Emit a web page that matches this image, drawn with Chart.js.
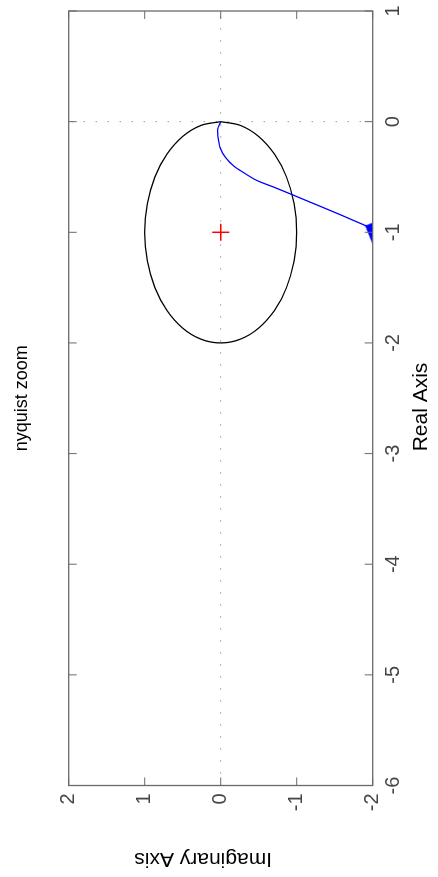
<!DOCTYPE html>
<html><head><meta charset="utf-8">
<script src="https://cdn.jsdelivr.net/npm/chart.js@4/dist/chart.umd.min.js"></script>
<style>
html,body{margin:0;padding:0;background:#fff;overflow:hidden;width:438px;height:877px;}
#wrap{position:absolute;left:0;top:0;width:877px;height:438px;transform-origin:0 0;transform:translate(0,877px) rotate(-90deg);}
</style></head><body>
<div id="wrap"><canvas id="c" width="877" height="438"></canvas></div>
<script>
// ---- data ----
const titleText = 'nyquist zoom';
const realAxisLabel = 'Real Axis   ';
const imagAxisLabel = '      Imaginary Axis';
const realTicks = [-6, -5, -4, -3, -2, -1, 0, 1];
const imagTicks = [-2, -1, 0, 1, 2];

// unit circle centred on -1 (15 degree steps)
const circleReal = [0, -0.034, -0.134, -0.293, -0.5, -0.741, -1, -1.259, -1.5, -1.707, -1.866, -1.966, -2,
                    -1.966, -1.866, -1.707, -1.5, -1.259, -1, -0.741, -0.5, -0.293, -0.134, -0.034, 0];
const circleImag = [0, 0.259, 0.5, 0.707, 0.866, 0.966, 1, 0.966, 0.866, 0.707, 0.5, 0.259, 0,
                    -0.259, -0.5, -0.707, -0.866, -0.966, -1, -0.966, -0.866, -0.707, -0.5, -0.259, 0];

// nyquist curve
const nyqReal = [0, -0.07, -0.14, -0.23, -0.32, -0.40, -0.46, -0.53, -0.59, -0.66, -0.74, -0.84, -0.95, -1.01, -1.07];
const nyqImag = [0, 0.04, 0.035, 0.01, -0.06, -0.17, -0.30, -0.47, -0.69, -0.94, -1.22, -1.57, -1.94, -2.14, -2.34];

const arrowReal = [-0.99];
const arrowImag = [-2.07];
const critReal = [-1];
const critImag = [0];
const zeroRealLineReal = [0, 0];
const zeroRealLineImag = [-2, 2];
const zeroImagLineReal = [-6, 1];
const zeroImagLineImag = [0, 0];

// ---- styles ----
const AXIS_COLOR = '#6a6a6a';
const TICK_TEXT = '#454545';
const TICK_LEN = 8;
Chart.defaults.font.family = "'Liberation Sans', Arial, Helvetica, sans-serif";

const pts = (xs, ys) => xs.map((x, i) => ({x: x, y: ys[i]}));

const arrowImg = document.createElement('canvas');
arrowImg.width = 30; arrowImg.height = 30;
(function(){
  const g = arrowImg.getContext('2d');
  g.fillStyle = '#0000ff';
  g.beginPath(); g.moveTo(15, 1); g.lineTo(29, 15); g.lineTo(1, 15); g.closePath(); g.fill();
})();

const boxTicks = {
  id: 'boxTicks',
  afterDatasetsDraw(chart) {
    const {ctx, chartArea: a, scales} = chart;
    const x = scales.x, y = scales.y;
    ctx.save();
    ctx.strokeStyle = AXIS_COLOR;
    ctx.lineWidth = 1;
    ctx.beginPath();
    x.ticks.forEach(t => {
      const px = x.getPixelForValue(t.value);
      ctx.moveTo(px, a.bottom); ctx.lineTo(px, a.bottom - TICK_LEN);
      ctx.moveTo(px, a.top); ctx.lineTo(px, a.top + TICK_LEN);
    });
    y.ticks.forEach(t => {
      const py = y.getPixelForValue(t.value);
      ctx.moveTo(a.left, py); ctx.lineTo(a.left + TICK_LEN, py);
      ctx.moveTo(a.right, py); ctx.lineTo(a.right - TICK_LEN, py);
    });
    ctx.stroke();
    ctx.lineWidth = 1.3;
    ctx.strokeRect(a.left, a.top, a.right - a.left, a.bottom - a.top);
    ctx.restore();
  }
};

new Chart(document.getElementById('c'), {
  type: 'scatter',
  data: {
    datasets: [
      { data: pts(critReal, critImag), pointStyle: 'cross', pointRadius: 8.5, pointBorderColor: '#ff0000',
        pointBorderWidth: 1.5, showLine: false },
      { data: pts(arrowReal, arrowImag), pointStyle: arrowImg, rotation: 23, pointRadius: 10, showLine: false, clip: 0 },
      { data: pts(nyqReal, nyqImag), showLine: true, borderColor: '#0000ff', borderWidth: 1.3, pointRadius: 0,
        tension: 0.3, clip: 0 },
      { data: pts(circleReal, circleImag), showLine: true, borderColor: '#000000', borderWidth: 1.3, pointRadius: 0,
        tension: 0.34 },
      { data: pts(zeroRealLineReal, zeroRealLineImag), showLine: true, borderColor: '#666666', borderWidth: 1,
        borderDash: [1, 11], pointRadius: 0 },
      { data: pts(zeroImagLineReal, zeroImagLineImag), showLine: true, borderColor: '#666666', borderWidth: 1,
        borderDash: [1, 11], pointRadius: 0 }
    ]
  },
  options: {
    responsive: false,
    animation: false,
    events: [],
    layout: { padding: { left: 0, right: 0, top: 0, bottom: 0 } },
    plugins: {
      legend: { display: false },
      tooltip: { enabled: false },
      title: { display: true, fullSize: false, text: titleText, color: '#000', font: { size: 18, weight: 'normal' },
               padding: { top: 11.6, bottom: 35.5 } }
    },
    scales: {
      x: {
        type: 'linear', position: 'bottom', min: -6, max: 1,
        afterBuildTicks: s => { s.ticks = realTicks.map(v => ({ value: v })); },
        afterFit: s => { s.height = 65.3; s.paddingRight = 6; s.paddingLeft = 0; },
        ticks: { padding: 8.6, color: TICK_TEXT, font: { size: 20 }, maxRotation: 0, autoSkip: false,
                 callback: v => String(v) },
        grid: { display: false, drawTicks: false },
        border: { display: false },
        title: { display: true, text: realAxisLabel, color: '#000', font: { size: 21 },
                 padding: { top: 0, bottom: 3.7 } }
      },
      y: {
        type: 'linear', position: 'left', min: -2, max: 2,
        afterBuildTicks: s => { s.ticks = imagTicks.map(v => ({ value: v })); },
        afterFit: s => { s.width = 91.5; },
        ticks: { padding: 8, color: TICK_TEXT, font: { size: 20 }, autoSkip: false,
                 callback: v => String(v) },
        grid: { display: false, drawTicks: false },
        border: { display: false },
        title: { display: true, text: imagAxisLabel, color: '#000', font: { size: 21 },
                 padding: { top: 5.8, bottom: 0 } }
      }
    }
  },
  plugins: [boxTicks]
});
</script>
</body></html>
